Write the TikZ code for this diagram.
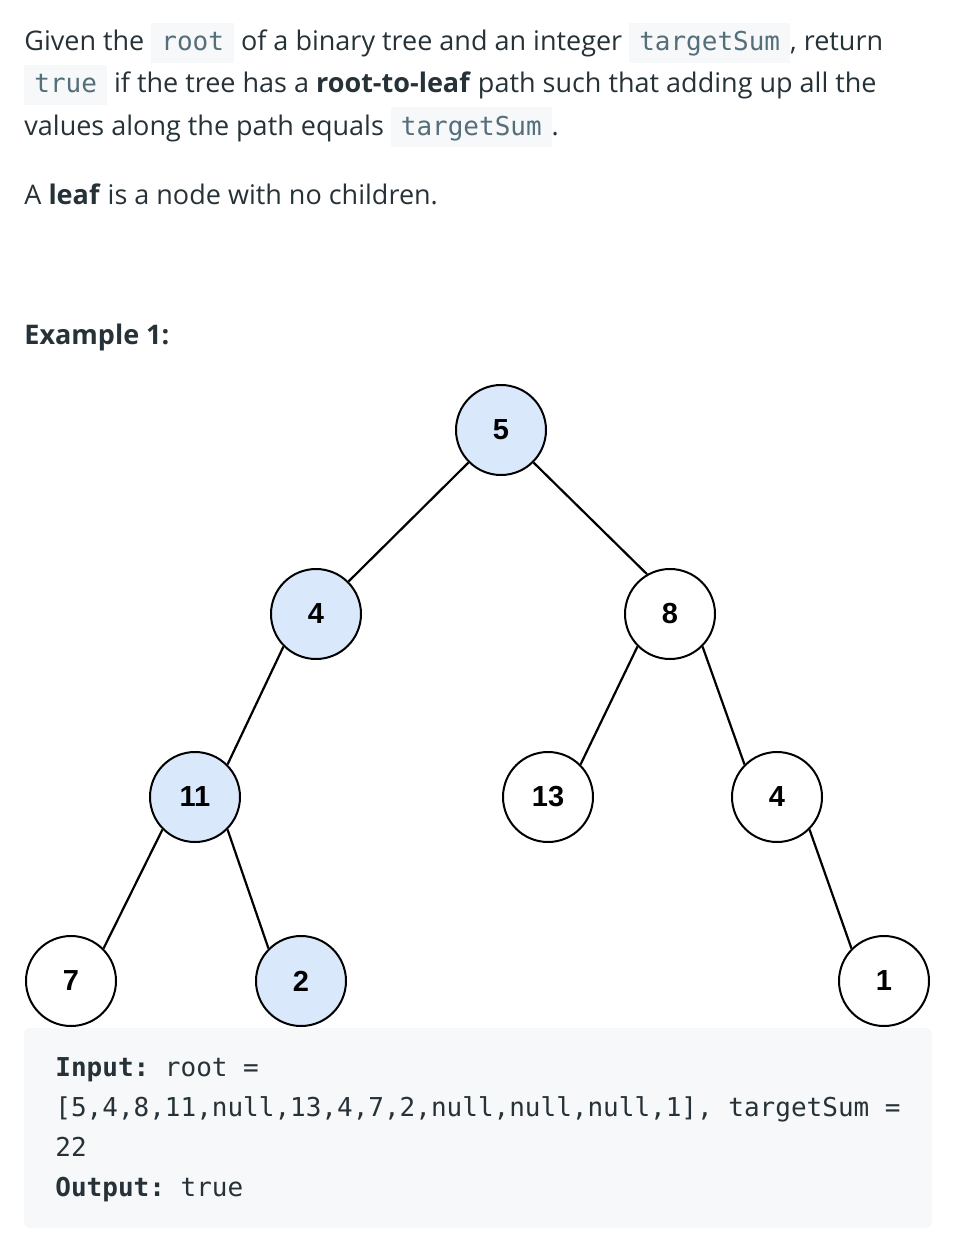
\documentclass[tikz,border=0pt]{standalone}
\usepackage{fontspec}
\setmainfont{Open Sans}
\setmonofont{DejaVu Sans Mono}
\definecolor{bodytext}{RGB}{38,50,56}
\definecolor{codefg}{RGB}{84,110,122}
\definecolor{codebg}{RGB}{246,248,250}
\definecolor{nodeblue}{RGB}{218,232,252}

\newcommand{\codebit}[1]{{\setlength{\fboxsep}{0pt}\colorbox{codebg}{\hspace{5pt}\rule[-6pt]{0pt}{20pt}\textcolor{codefg}{\ttfamily\fontsize{13}{15}\selectfont #1}\hspace{5pt}}}}

\begin{document}
\begin{tikzpicture}[x=0.5pt, y=-0.5pt]
  \useasboundingbox (0, 0) rectangle (970, 1236);

  \tikzset{
    line/.style={anchor=base west, inner sep=0, text=bodytext, font=\fontsize{13.5}{15}\selectfont},
    codeline/.style={anchor=base west, inner sep=0, text=bodytext, font=\ttfamily\fontsize{13}{15}\selectfont},
    treenode/.style={circle, draw=black, line width=1pt, minimum size=45pt, inner sep=0, font=\fontspec{Liberation Sans}\bfseries\fontsize{14.5}{15}\selectfont}
  }

  % problem text
  \node [line] (t1) at (24, 51) {Given the \codebit{root} of a binary tree and an integer \codebit{targetSum}, return};
  \node [line] (t2) at (24, 93) {\codebit{true} if the tree has a \textbf{root-to-leaf} path such that adding up all the};
  \node [line] (t3) at (24, 135) {values along the path equals \codebit{targetSum}.};
  \node [line] (t4) at (24, 204) {A \textbf{leaf} is a node with no children.};
  \node [line, font=\bfseries\fontsize{13.5}{15}\selectfont] (ex) at (24, 344) {Example 1:};

  % tree
  \foreach \name/\x/\y/\val/\col in {n5/501/430/5/nodeblue,
                                     n4/316/614/4/nodeblue,
                                     n8/670/614/8/white,
                                     n11/195/797/11/nodeblue,
                                     n13/548/797/13/white,
                                     n4b/777/797/4/white,
                                     n7/71/981/7/white,
                                     n2/301/981/2/nodeblue,
                                     n1/884/981/1/white}
  {
    \node [treenode, fill=\col] (\name) at (\x, \y) {\val};
  }

  \foreach \a/\b in {n5.225/n4.45, n5.-45/n8.120, n4.225/n11.45, n11.225/n7.45,
                     n11.-45/n2.135, n8.225/n13.45, n8.-45/n4b.135, n4b.-45/n1.135}
  {
    \draw [line width=1.1pt] (\a) -- (\b);
  }

  % example box
  \fill [codebg, rounded corners=3pt] (24, 1028) rectangle (932, 1228);
  \node [codeline] (in1) at (55, 1076) {\textbf{Input:} root =};
  \node [codeline] (in2) at (55, 1116) {[5,4,8,11,null,13,4,7,2,null,null,null,1], targetSum =};
  \node [codeline] (in3) at (55, 1156) {22};
  \node [codeline] (out) at (55, 1196) {\textbf{Output:} true};

\end{tikzpicture}
\end{document}
